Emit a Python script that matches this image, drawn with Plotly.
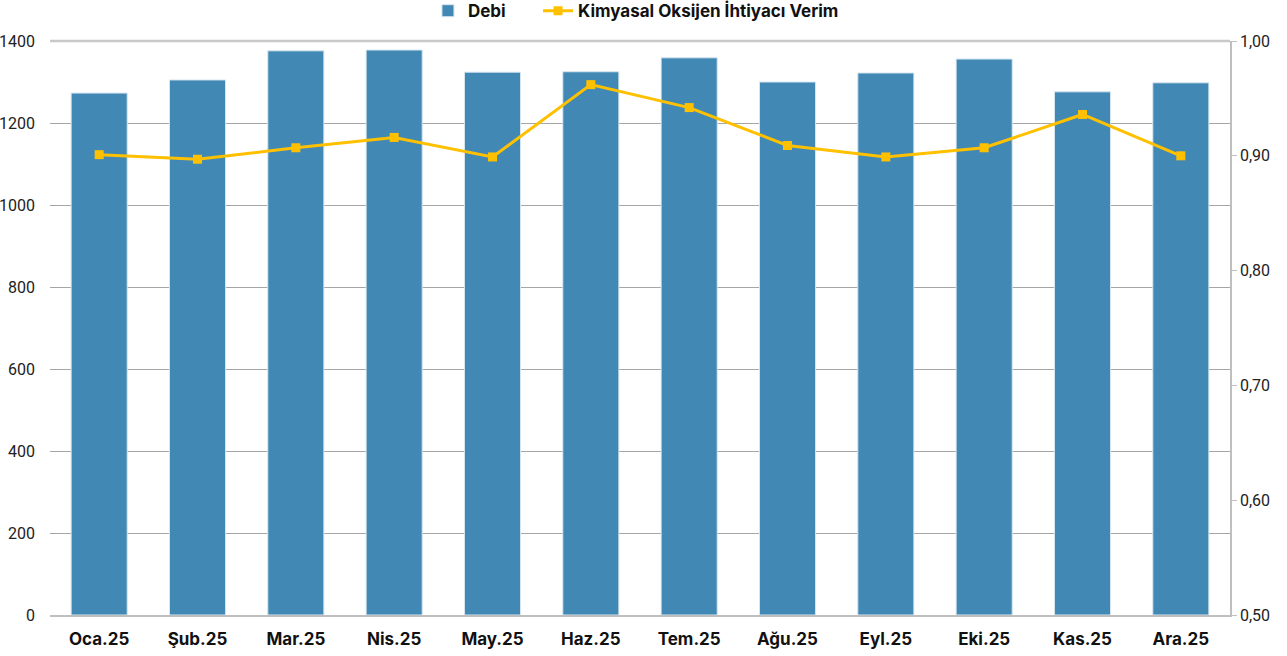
import plotly.graph_objects as go

categories = ["Oca.25", "Şub.25", "Mar.25", "Nis.25", "May.25", "Haz.25",
              "Tem.25", "Ağu.25", "Eyl.25", "Eki.25", "Kas.25", "Ara.25"]
debi = [1273, 1305, 1376, 1378, 1324, 1325, 1359, 1300, 1322, 1356, 1276, 1298]
verim = [0.901, 0.897, 0.907, 0.916, 0.899, 0.962, 0.942, 0.909, 0.899, 0.907, 0.936, 0.900]

left_ticks = [0, 200, 400, 600, 800, 1000, 1200, 1400]
right_ticks = [0.5, 0.6, 0.7, 0.8, 0.9, 1.0]
right_labels = ["0,50", "0,60", "0,70", "0,80", "0,90", "1,00"]

num_font = dict(family="Roboto, sans-serif", size=16, color="#222222")
bold_font = dict(family="Inter, Lato, sans-serif", size=17, color="#111111", weight="bold")

fig = go.Figure()
fig.add_trace(go.Bar(
    x=categories, y=debi, name="Debi",
    marker=dict(color="#4189B4", line=dict(color="#D6E6F0", width=1)),
    yaxis="y", legend="legend",
))
fig.add_trace(go.Scatter(
    x=categories, y=verim, name="Kimyasal Oksijen İhtiyacı Verim",
    mode="lines+markers",
    line=dict(color="#FFC000", width=3),
    marker=dict(symbol="square", size=9, color="#FFC000"),
    yaxis="y2", legend="legend2",
))

fig.update_layout(
    width=1287, height=656,
    margin=dict(l=50, r=57, t=41, b=41, autoexpand=False),
    paper_bgcolor="white", plot_bgcolor="white",
    bargap=0.43,
    showlegend=True,
    legend=dict(orientation="h", x=0.3203, xanchor="left", y=1.052, yanchor="middle",
                font=bold_font),
    legend2=dict(orientation="h", x=0.4136, xanchor="left", y=1.052, yanchor="middle",
                 font=bold_font),
    xaxis=dict(range=[-0.5, len(categories) - 0.5], showgrid=False, showline=True,
               linecolor="#BFBFBF", linewidth=1.5,
               ticks="", tickfont=bold_font, ticklabelstandoff=8, automargin=False),
    yaxis=dict(range=[0, 1400], tickvals=left_ticks, showgrid=True, gridcolor="#A6A6A6", gridwidth=1,
               zeroline=False, showline=False, ticks="",
               tickfont=num_font, ticklabelstandoff=14, automargin=False),
    yaxis2=dict(range=[0.5, 1.0], tickvals=right_ticks, ticktext=right_labels, overlaying="y", side="right",
                showgrid=False, zeroline=False, showline=True, linecolor="#BFBFBF", linewidth=1.5,
                ticks="outside", ticklen=5, tickcolor="#BFBFBF", automargin=False,
                tickfont=num_font),
)
fig.add_shape(type="line", xref="paper", yref="paper", x0=0, x1=1, y0=1, y1=1,
              line=dict(color="#C8C8C8", width=2.5))

fig.write_html("out.html", config={"displayModeBar": False},
               post_script="document.body.style.margin='0';")
